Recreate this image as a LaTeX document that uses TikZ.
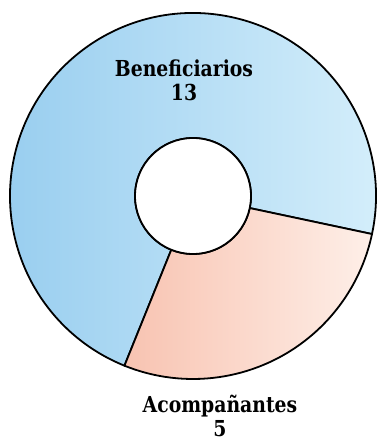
\documentclass[tikz,border=0pt]{standalone}
\usepackage{fontspec}
\usetikzlibrary{calc}
\newfontfamily\labelfont[FakeStretch=0.95]{DejaVu Serif Condensed}
\definecolor{beneLeft}{HTML}{97CDEF}
\definecolor{beneMid}{HTML}{A7DDF7}
\definecolor{beneRight}{HTML}{D6EFFB}
\definecolor{acompLeft}{HTML}{F8C3B1}
\definecolor{acompRight}{HTML}{FEEFE8}
\begin{document}
\begin{tikzpicture}[x=1pt,y=1pt,
        wedge/.style={draw=black,line width=1.8pt,line join=round},
        slicelabel/.style={font=\labelfont\bfseries\fontsize{22}{24}\selectfont,align=center,inner sep=0pt}]
        \useasboundingbox (0,0) rectangle (376,441);
        \coordinate (c) at (193,245);
        \shade[wedge,left color=beneLeft,middle color=beneMid,right color=beneRight]
                ($(c)+(-12:183)$) arc (-12:248:183) -- ($(c)+(248:58)$) arc (248:-12:58) -- cycle;
        \shade[wedge,left color=acompLeft,right color=acompRight]
                ($(c)+(-112:183)$) arc (-112:-12:183) -- ($(c)+(-12:58)$) arc (-12:-112:58) -- cycle;
        \draw[wedge,fill=white] (c) circle (58);
        \node[slicelabel] (bene) at (184,361) {Beneficiarios\\13};
        \node[slicelabel] (acomp) at (220,25) {Acompañantes\\5};
\end{tikzpicture}
\end{document}
